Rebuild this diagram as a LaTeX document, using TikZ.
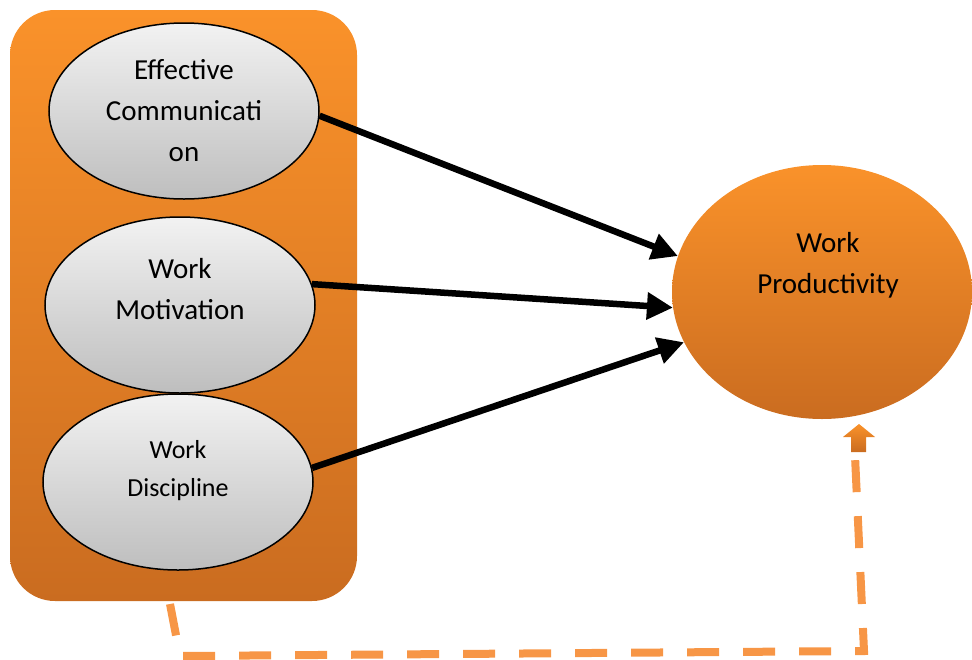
\documentclass[tikz,border=0pt]{standalone}
\usepackage{fontspec}
\setmainfont{Carlito}
\usetikzlibrary{arrows.meta,shapes.geometric}
\definecolor{orT}{RGB}{250,146,42}
\definecolor{orB}{RGB}{202,108,32}
\definecolor{grT}{RGB}{242,242,242}
\definecolor{grB}{RGB}{190,190,190}
\definecolor{dashor}{RGB}{247,150,70}
\begin{document}
\begin{tikzpicture}[x=1pt,y=-1pt,
  grp/.style={rectangle, rounded corners=45pt, minimum width=347pt, minimum height=591pt, top color=orT, bottom color=orB, draw=none, inner sep=0pt},
  factor/.style={ellipse, draw=black, line width=1.5pt, top color=grT, bottom color=grB, inner sep=0pt, minimum width=270pt, minimum height=176pt},
  outcome/.style={ellipse, draw=none, top color=orT, bottom color=orB, inner sep=0pt, minimum width=300pt, minimum height=254pt},
  lbl/.style={align=center, inner sep=0pt, font=\fontsize{29}{41}\selectfont},
  lblsmall/.style={align=center, inner sep=0pt, font=\fontsize{26}{38}\selectfont},
  link/.style={line width=6.5pt, -{Triangle[length=26pt,width=26pt]}},
  feedback/.style={draw=dashor, line width=8pt, dash pattern=on 32pt off 24pt}
]
\useasboundingbox (0,0) rectangle (972,659);
\node[grp] (grp) at (183.5,305.5) {};
\node[factor] (e1) at (184,111) {};
\node[factor] (e2) at (180,305) {};
\node[factor] (e3) at (178,482) {};
\node[lbl] (t1) at (184,111) {Effective\\Communicati\\on};
\node[lbl] (t2) at (180,289) {Work\\Motivation};
\node[lblsmall] (t3) at (178,471) {Work\\Discipline};
\node[outcome] (wp) at (822,292) {};
\node[lbl] (wpt) at (828,265) {Work\\Productivity};
\draw[link] (e1.358) -- (wp.166);
\draw[link] (e2.9) -- (wp.186);
\draw[link] (e3.6) -- (wp.200);
\coordinate (d0) at (170,604);
\coordinate (d1) at (180,656);
\coordinate (d2) at (864,651);
\coordinate (d3) at (855,456);
\draw[feedback] (d0) -- (d1) -- (d2) -- (d3);
\shade[top color=orT, bottom color=orB] (851,452) -- (851,437) -- (843,437) -- (859,424) -- (875,437) -- (866,437) -- (866,452) -- cycle;
\end{tikzpicture}
\end{document}
